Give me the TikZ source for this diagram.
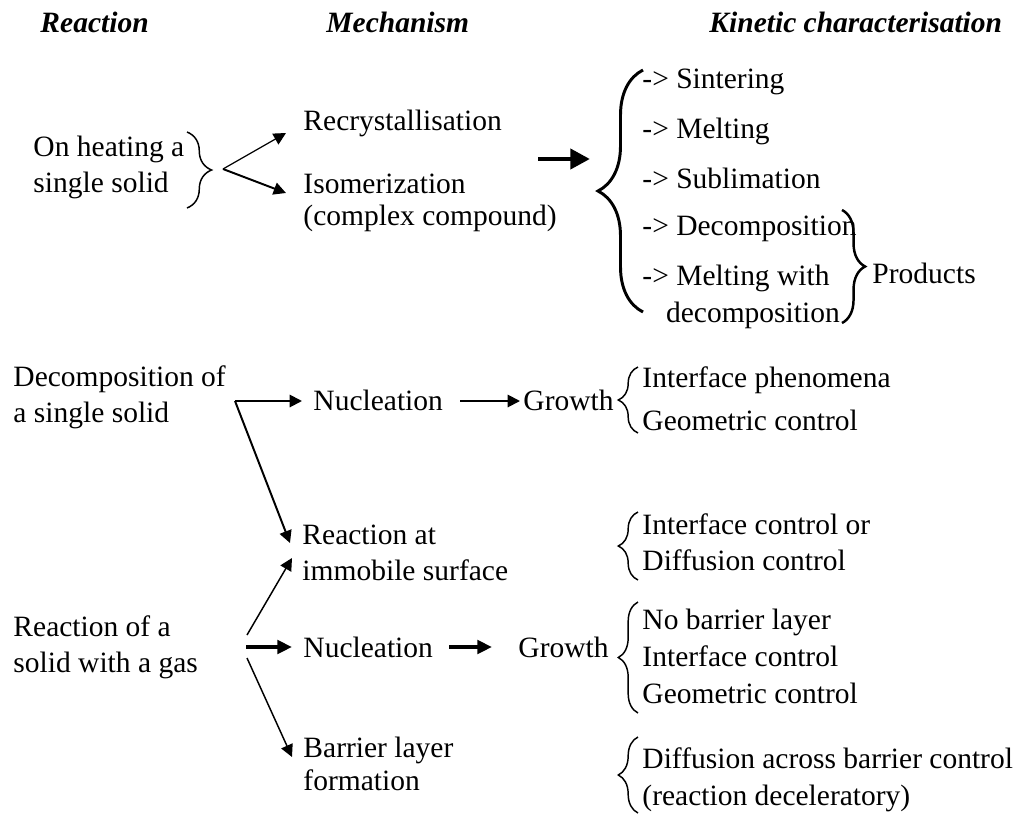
\documentclass[tikz,border=0pt]{standalone}
\usepackage{fontspec}
\setmainfont{Liberation Serif}
\usetikzlibrary{arrows.meta, calc, decorations.pathreplacing}

\begin{document}
\begin{tikzpicture}[x=0.4068pt, y=-0.4068pt, font=\fontsize{12}{14.3}\selectfont,
    txt/.style={anchor=base west, inner sep=0pt, align=left},
    head/.style={txt, font=\fontsize{12}{14.3}\selectfont\bfseries\itshape},
    arr/.style={-{Triangle[length=5pt,width=5pt]}, line width=0.8pt},
    bigarr/.style={-{Triangle[length=6pt,width=5.5pt]}, line width=1.4pt},
    brc/.style={decorate, decoration={brace, amplitude=#1}, line width=0.6pt},
    brc/.default=8pt]
    \useasboundingbox (0,0) rectangle (1022,816);
    % HEADINGS
    \node[head] (hreac) at (40,32) {Reaction};
    \node[head] (hmech) at (326,32) {Mechanism};
    \node[head] (hkin) at (709,32) {Kinetic characterisation};
    % ON HEATING (multi-line nodes sit on their last baseline)
    \node[txt] (heat) at (33,192) {On heating a\\single solid};
    \draw[brc=10pt] (187,132) -- (187,208);
    \coordinate (s1) at (223,169);
    \node[txt] (recr) at (303,130) {Recrystallisation};
    \node[txt] (isom) at (303,225) {Isomerization\\[-1.3pt](complex compound)};
    \draw[arr, line width=0.5pt] (s1) -- ($(recr.base west)+(-17,3)$);
    \draw[arr] (s1) -- ($(isom.base west)+(-17,-32)$);
    \coordinate (k1) at (538,159);
    \coordinate (k2) at (590,159);
    \draw[-{Triangle[length=8pt,width=8pt]}, line width=2pt] (k1) -- (k2);
    \draw[brc=18.3pt, line width=1.2pt] (643,312) -- (643,70);
    \node[txt] (sint) at (642,88) {-> Sintering};
    \node[txt] (melt) at (642,138) {-> Melting};
    \node[txt] (subl) at (642,188) {-> Sublimation};
    \node[txt] (deco) at (642,235) {-> Decomposition};
    \node[txt] (mwd) at (642,322) {-> Melting with\\[0.7pt]\hspace*{0.8em}decomposition};
    \draw[brc=9.4pt, line width=1pt] (842,210) -- (842,323);
    \node[txt] (prod) at (872,283) {Products};
    % DECOMPOSITION
    \node[txt] (decs) at (13,422) {Decomposition of\\a single solid};
    \coordinate (c2) at (235,401);
    \node[txt] (nuc1) at (313,410) {Nucleation};
    \node[txt] (gro1) at (523,410) {Growth};
    \node[txt] (ras) at (302,580) {Reaction at\\immobile surface};
    \draw[arr] (c2) -- ($(nuc1.base west)+(-11,-9)$);
    \draw[arr] (c2) -- ($(ras.base west)+(-12,-37)$);
    \draw[arr] ($(nuc1.base east)+(17,-9)$) -- ($(gro1.base west)+(-3,-9)$);
    \draw[brc] (638,433) -- (638,367);
    \node[txt] (ipgc) at (642,430) {Interface phenomena\\[2.8pt]Geometric control};
    \draw[brc] (638,580) -- (638,512);
    \node[txt] (icdc) at (642,570) {Interface control or\\Diffusion control};
    % SOLID WITH A GAS
    \node[txt] (rsg) at (13,672) {Reaction of a\\solid with a gas};
    \coordinate (c3u) at (247,635);
    \coordinate (c3m) at (246,647);
    \coordinate (c3l) at (247,658);
    \node[txt] (nuc2) at (303,657) {Nucleation};
    \node[txt] (gro2) at (518,657) {Growth};
    \node[txt] (blf) at (303,790) {Barrier layer\\[-1.2pt]formation};
    \draw[arr, line width=0.6pt] (c3u) -- ($(ras.base west)+(-10,-22)$);
    \draw[bigarr] (c3m) -- ($(nuc2.base west)+(-11,-10)$);
    \draw[arr, line width=0.6pt] (c3l) -- ($(blf.base west)+(-11,-33)$);
    \draw[bigarr] ($(nuc2.base east)+(16,-10)$) -- ($(gro2.base west)+(-26,-10)$);
    \draw[brc] (638,713) -- (638,602);
    \node[txt] (nbl) at (642,703) {No barrier layer\\[0.7pt]Interface control\\[0.7pt]Geometric control};
    \draw[brc] (638,813) -- (638,737);
    \node[txt] (dabc) at (642,805) {Diffusion across barrier control\\[0.7pt](reaction deceleratory)};
\end{tikzpicture}
\end{document}
